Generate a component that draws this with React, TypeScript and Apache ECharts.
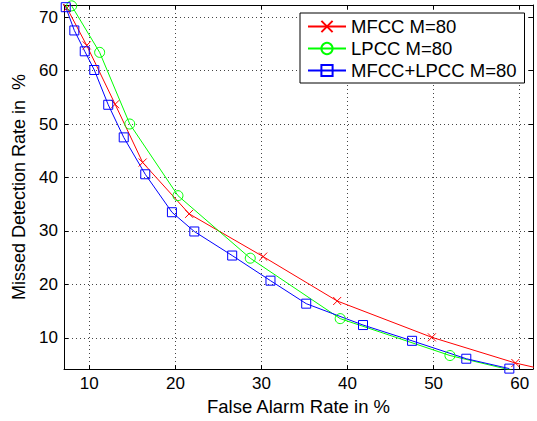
import React, { useEffect, useRef } from "react";
import * as echarts from "echarts";

const xTicks = [10, 20, 30, 40, 50, 60];
const yTicks = [10, 20, 30, 40, 50, 60, 70];

const seriesNames = ["MFCC M=80", "LPCC M=80", "MFCC+LPCC M=80"];

const mfccX = [7.4, 9.7, 13.0, 16.2, 21.6, 30.2, 38.8, 49.8, 59.5, 62.5];
const mfccY = [71.7, 64.7, 53.7, 42.8, 33.2, 25.2, 16.9, 10.1, 5.3, 4.2];

const lpccX = [7.95, 11.2, 14.7, 20.3, 28.7, 39.15, 51.9, 61.0];
const lpccY = [72.1, 63.4, 50.0, 36.6, 24.9, 13.6, 6.7, 3.2];

const mixX = [7.26, 8.26, 9.47, 10.58, 12.2, 14.0, 16.5, 19.6, 22.2, 26.6, 31.05, 35.2, 41.8, 47.5, 53.8, 58.8];
const mixY = [71.85, 67.5, 63.6, 60.1, 53.6, 47.5, 40.6, 33.5, 29.9, 25.4, 20.7, 16.4, 12.4, 9.45, 6.1, 4.25];

const zip = (xs: number[], ys: number[]) => xs.map((x, i) => [x, ys[i]]);

const FONT = "'Liberation Sans', Arial, Helvetica, sans-serif";
const X_MIN = 7.06;
const X_MAX = 61.55;
const Y_MIN = 4.16;
const Y_MAX = 72.26;

export default function App() {
  const ref = useRef<HTMLDivElement>(null);
  useEffect(() => {
    if (!ref.current) return;
    const chart = echarts.init(ref.current, undefined, { renderer: "svg" });
    const mkSeries = (name: string, data: number[][], color: string, symbol: string, size: number) => ({
      name,
      type: "line",
      data,
      symbol,
      symbolSize: size,
      clip: true,
      color,
      lineStyle: { color, width: 1 },
      itemStyle: { color: "rgba(0,0,0,0)", borderColor: color, borderWidth: 1 },
      emphasis: { disabled: true },
    });
    chart.setOption({
      animation: false,
      textStyle: { fontFamily: FONT },
      grid: { left: 64, right: 4, top: 5, bottom: 46 },
      legend: {
        orient: "vertical",
        left: 300,
        top: 13,
        itemWidth: 38,
        itemHeight: 14,
        itemGap: 3,
        padding: [4, 8, 3, 7],
        borderColor: "#000",
        borderWidth: 1,
        backgroundColor: "#fff",
        textStyle: { fontSize: 18.5, color: "#000", fontFamily: FONT },
        data: seriesNames,
      },
      xAxis: [
        {
          type: "value",
          min: X_MIN,
          max: X_MAX,
          position: "bottom",
          name: "False Alarm Rate in %",
          nameLocation: "middle",
          nameGap: 25,
          nameTextStyle: { fontSize: 18.5, color: "#000", fontFamily: FONT },
          axisLine: { show: true, onZero: false, lineStyle: { color: "#000", width: 1 } },
          axisTick: { show: true, inside: true, length: 4, customValues: xTicks, lineStyle: { color: "#000" } },
          axisLabel: { customValues: xTicks, fontSize: 17, color: "#000", margin: 6, fontFamily: FONT },
          splitLine: { show: true, lineStyle: { color: "#444", type: [1, 3], width: 1 } },
        },
        {
          type: "value",
          min: X_MIN,
          max: X_MAX,
          position: "top",
          axisLine: { show: true, onZero: false, lineStyle: { color: "#000", width: 1 } },
          axisTick: { show: true, inside: true, length: 4, customValues: xTicks, lineStyle: { color: "#000" } },
          axisLabel: { show: false },
          splitLine: { show: false },
        },
      ],
      yAxis: [
        {
          type: "value",
          min: Y_MIN,
          max: Y_MAX,
          position: "left",
          name: "Missed Detection Rate in  %",
          nameLocation: "middle",
          nameGap: 31,
          nameTextStyle: { fontSize: 18, color: "#000", fontFamily: FONT },
          axisLine: { show: true, onZero: false, lineStyle: { color: "#000", width: 1 } },
          axisTick: { show: true, inside: true, length: 4, customValues: yTicks, lineStyle: { color: "#000" } },
          axisLabel: { customValues: yTicks, fontSize: 17, color: "#000", margin: 6, fontFamily: FONT },
          splitLine: { show: true, lineStyle: { color: "#444", type: [1, 3], width: 1 } },
        },
        {
          type: "value",
          min: Y_MIN,
          max: Y_MAX,
          position: "right",
          axisLine: { show: true, onZero: false, lineStyle: { color: "#000", width: 1 } },
          axisTick: { show: true, inside: true, length: 4, customValues: yTicks, lineStyle: { color: "#000" } },
          axisLabel: { show: false },
          splitLine: { show: false },
        },
      ],
      series: [
        mkSeries(seriesNames[0], zip(mfccX, mfccY), "#ff0000", "path://M0,0L10,10M10,0L0,10", 8),
        mkSeries(seriesNames[1], zip(lpccX, lpccY), "#00ff00", "circle", 10),
        mkSeries(seriesNames[2], zip(mixX, mixY), "#0000ff", "rect", 9),
      ],
    });
    return () => chart.dispose();
  }, []);
  return (
    <div
      ref={ref}
      style={{ position: "fixed", left: 0, top: 0, width: 537, height: 421, background: "#fff" }}
    />
  );
}
